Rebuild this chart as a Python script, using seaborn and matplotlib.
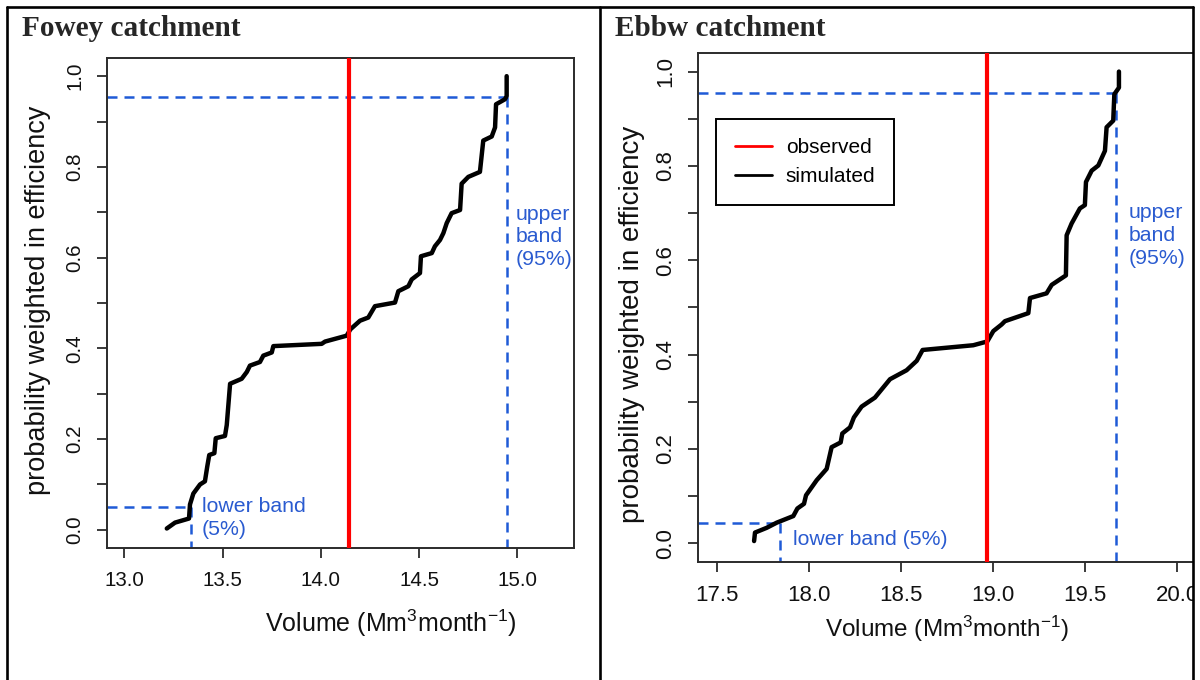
import numpy as np
import pandas as pd
import matplotlib
matplotlib.use("Agg")
import matplotlib.pyplot as plt
from matplotlib.lines import Line2D
from matplotlib.patches import Rectangle
import seaborn as sns

# ---------------- data ----------------
fowey_volume = [13.216, 13.258, 13.329, 13.334, 13.351, 13.385, 13.410, 13.422, 13.432,
                13.458, 13.465, 13.512, 13.521, 13.538, 13.597, 13.623, 13.639, 13.690,
                13.707, 13.750, 13.758, 14.004, 14.021, 14.131, 14.150, 14.199, 14.241,
                14.275, 14.377, 14.394, 14.445, 14.462, 14.504, 14.509, 14.564, 14.580,
                14.606, 14.623, 14.640, 14.665, 14.708, 14.716, 14.750, 14.809, 14.826,
                14.869, 14.886, 14.891, 14.936, 14.945, 14.945]
fowey_prob = [0.003, 0.016, 0.025, 0.056, 0.080, 0.100, 0.107, 0.140, 0.165,
              0.169, 0.202, 0.207, 0.231, 0.322, 0.333, 0.348, 0.362, 0.370,
              0.384, 0.391, 0.405, 0.410, 0.415, 0.428, 0.442, 0.461, 0.468,
              0.493, 0.501, 0.526, 0.537, 0.552, 0.566, 0.603, 0.610, 0.625,
              0.639, 0.654, 0.676, 0.698, 0.705, 0.763, 0.778, 0.789, 0.858,
              0.867, 0.887, 0.938, 0.949, 0.956, 1.000]
fowey_observed = 14.145
fowey_lower = (13.339, 0.050)
fowey_upper = (14.948, 0.954)

ebbw_volume = [17.703, 17.708, 17.771, 17.826, 17.916, 17.938, 17.974, 17.985, 18.043,
               18.097, 18.124, 18.173, 18.182, 18.224, 18.245, 18.287, 18.359, 18.441,
               18.531, 18.586, 18.618, 18.893, 18.969, 19.002, 19.047, 19.065, 19.192,
               19.201, 19.291, 19.319, 19.396, 19.400, 19.427, 19.472, 19.499, 19.505,
               19.536, 19.572, 19.608, 19.617, 19.653, 19.659, 19.684, 19.684]
ebbw_prob = [0.005, 0.023, 0.033, 0.044, 0.058, 0.074, 0.084, 0.102, 0.134,
             0.158, 0.204, 0.214, 0.233, 0.246, 0.267, 0.290, 0.309, 0.348,
             0.367, 0.387, 0.410, 0.420, 0.428, 0.450, 0.464, 0.471, 0.488,
             0.520, 0.530, 0.548, 0.568, 0.653, 0.678, 0.710, 0.717, 0.766,
             0.790, 0.801, 0.832, 0.882, 0.896, 0.952, 0.966, 1.000]
ebbw_observed = 18.969
ebbw_lower = (17.844, 0.043)
ebbw_upper = (19.666, 0.954)

fowey_xticks = [13.0, 13.5, 14.0, 14.5, 15.0]
ebbw_xticks = [17.5, 18.0, 18.5, 19.0, 19.5, 20.0]
yticks = [0.0, 0.1, 0.2, 0.3, 0.4, 0.5, 0.6, 0.7, 0.8, 0.9, 1.0]
ytick_labels = ["0.0", "", "0.2", "", "0.4", "", "0.6", "", "0.8", "", "1.0"]

titles = ["Fowey catchment", "Ebbw catchment"]
xlabel = r"Volume (Mm$^3$month$^{-1}$)"
ylabel = "probability weighted in efficiency"
upper_text = "upper\nband\n(95%)"
lower_text_fowey = "lower band\n(5%)"
lower_text_ebbw = "lower band (5%)"
legend_labels = ["observed", "simulated"]

# ---------------- style ----------------
sns.set_style("white")
plt.rcParams["font.family"] = ["Liberation Sans", "DejaVu Sans"]
plt.rcParams["mathtext.fontset"] = "custom"
plt.rcParams["mathtext.rm"] = "Liberation Sans"
plt.rcParams["mathtext.it"] = "Liberation Sans:italic"

BLUE = "#1f5ad6"
BLUE_TXT = "#2a5bd0"
RED = "#ff0000"
SPINE = "#2b2b2b"
DASH = (0, (4.0, 2.8))

fig = plt.figure(figsize=(12, 6.8), dpi=100)
fig.patch.set_facecolor("white")
ax1 = fig.add_axes([0.0892, 0.1941, 0.3892, 0.7206])
ax2 = fig.add_axes([0.5819, 0.1731, 0.4144, 0.7494])


def panel(ax, vol, prob, obs, lower, upper, xlim, xticks, tick_fs, xlab_fs, ylab_fs):
    df = pd.DataFrame({"volume": vol, "prob": prob})
    ax.set_xlim(*xlim)
    ax.set_ylim(-0.04, 1.04)
    x0 = xlim[0]
    y0 = -0.04
    # band guides
    ax.plot([x0, upper[0]], [upper[1], upper[1]], color=BLUE, lw=1.8, ls=DASH, zorder=2)
    ax.plot([upper[0], upper[0]], [upper[1], y0], color=BLUE, lw=1.8, ls=DASH, zorder=2)
    ax.plot([x0, lower[0]], [lower[1], lower[1]], color=BLUE, lw=1.8, ls=DASH, zorder=2)
    ax.plot([lower[0], lower[0]], [lower[1], y0], color=BLUE, lw=1.8, ls=DASH, zorder=2)
    # simulated curve
    sns.lineplot(data=df, x="volume", y="prob", estimator=None, sort=False,
                 color="black", lw=3.2, ax=ax, zorder=3)
    # observed
    ax.axvline(obs, color=RED, lw=3.0, zorder=4)

    ax.set_xticks(xticks)
    ax.set_xticklabels([f"{t:.1f}" for t in xticks])
    ax.set_yticks(yticks)
    ax.set_yticklabels(ytick_labels)
    ax.tick_params(axis="both", direction="out", length=7.2, width=1.3,
                   bottom=True, left=True, top=False, right=False,
                   color=SPINE, labelsize=tick_fs, labelcolor="#111111", pad=9)
    ax.tick_params(axis="y", labelrotation=90)
    for lab in ax.get_yticklabels():
        lab.set_va("center")
    for s in ax.spines.values():
        s.set_color(SPINE)
        s.set_linewidth(1.4)
        s.set_visible(True)
    ax.set_xlabel(xlabel, fontsize=xlab_fs, color="#111111")
    ax.set_ylabel(ylabel, fontsize=ylab_fs, color="#111111")
    ax.xaxis.label.set_va("center")
    ax.yaxis.label.set_va("center")
    ax.grid(False)


panel(ax1, fowey_volume, fowey_prob, fowey_observed, fowey_lower, fowey_upper,
      (12.912, 15.288), fowey_xticks, 14.8, 18, 19.5)
panel(ax2, ebbw_volume, ebbw_prob, ebbw_observed, ebbw_lower, ebbw_upper,
      (17.4, 20.1), ebbw_xticks, 16, 17.5, 20)

ax1.xaxis.set_label_coords(0.608, -0.153)
ax1.yaxis.set_label_coords(-0.148, 0.506)
ax2.xaxis.set_label_coords(0.5, -0.131)
ax2.yaxis.set_label_coords(-0.133, 0.466)

# annotations
ax1.text(14.992, 0.646, upper_text, color=BLUE_TXT, fontsize=15.3, ha="left",
         va="center", linespacing=1.25)
ax1.text(13.394, 0.026, lower_text_fowey, color=BLUE_TXT, fontsize=15.3, ha="left",
         va="center", linespacing=1.25)
ax2.text(19.735, 0.653, upper_text, color=BLUE_TXT, fontsize=15.3, ha="left",
         va="center", linespacing=1.25)
ax2.text(17.916, 0.009, lower_text_ebbw, color=BLUE_TXT, fontsize=15.3, ha="left",
         va="center")

# legend
handles = [Line2D([], [], color=RED, lw=2.0), Line2D([], [], color="black", lw=2.0)]
leg = ax2.legend(handles, legend_labels, loc="upper left", bbox_to_anchor=(0.0356, 0.869),
                 borderaxespad=0, fontsize=15, frameon=True, fancybox=False,
                 handlelength=1.8, handletextpad=0.65, borderpad=0.9,
                 labelspacing=0.48, edgecolor="black", framealpha=1)
leg.get_frame().set_linewidth(1.4)
for t in leg.get_texts():
    t.set_color("black")

# titles
fig.text(22 / 1200, 1 - 36 / 680, titles[0], fontfamily="Liberation Serif",
         fontweight="bold", fontsize=21.1, va="baseline", ha="left")
fig.text(615 / 1200, 1 - 36 / 680, titles[1], fontfamily="Liberation Serif",
         fontweight="bold", fontsize=21.1, va="baseline", ha="left")

# crop beyond the right cell border
fig.patches.append(Rectangle((1194 / 1200, 0), 6 / 1200, 1, transform=fig.transFigure,
                             facecolor="white", edgecolor="none", zorder=20))
# table frame
lw_frame = 1.9
for (xs, ys) in [((7, 1193), (7, 7)), ((7, 7), (7, 680)), ((600, 600), (7, 680)),
                 ((1193, 1193), (7, 680))]:
    fig.lines.append(Line2D([x / 1200 for x in xs], [1 - y / 680 for y in ys],
                            transform=fig.transFigure, color="black", lw=lw_frame,
                            zorder=30))

fig.savefig("out.png", dpi=100, facecolor="white")
